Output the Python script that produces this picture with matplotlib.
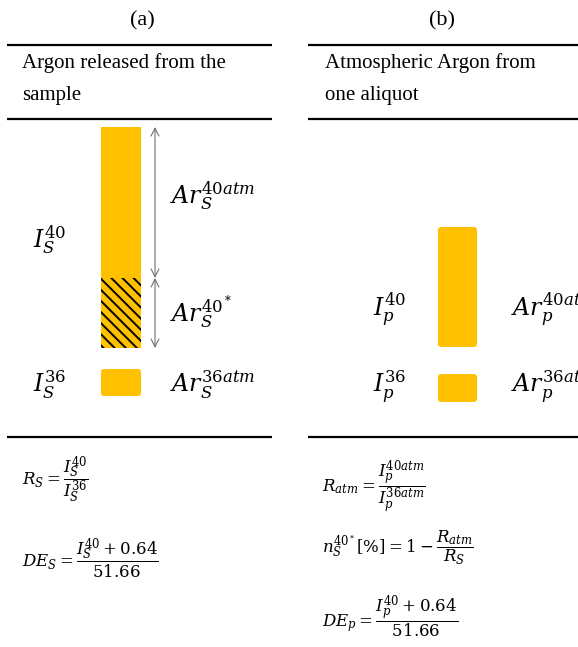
import matplotlib
matplotlib.use("Agg")
from matplotlib import pyplot as plt
from matplotlib.patches import FancyBboxPatch

# values (bar lengths in pixel units)
sample_ar40_atm = 151   # atmospheric part of I_S^40
sample_ar40_rad = 70    # radiogenic part (hatched)
sample_ar36 = 27
aliquot_ar40 = 120
aliquot_ar36 = 28

panel_titles = ["(a)", "(b)"]
panel_heads = [["Argon released from the", "sample"],
               ["Atmospheric Argon from", "one aliquot"]]

plt.rcParams['font.family'] = ['Liberation Serif', 'DejaVu Serif']
plt.rcParams['mathtext.fontset'] = 'dejavuserif'
plt.rcParams['hatch.linewidth'] = 1.4

ORANGE = "#FFC000"

fig = plt.figure(figsize=(5.78, 6.47), dpi=100)
ax = fig.add_axes([0, 0, 1, 1])
ax.set_xlim(0, 578)
ax.set_ylim(647, 0)
ax.axis('off')


def round_bars(bars, r=3):
    # swap plain bar rectangles for slightly rounded ones
    for b in bars:
        x, y = b.get_xy()
        b.set_visible(False)
        ax.add_patch(FancyBboxPatch((x, y), b.get_width(), b.get_height(),
                                    boxstyle="round,pad=0,rounding_size=%g" % r,
                                    fc=b.get_facecolor(), lw=0))


# panel titles, header rules and header text
cols = [(7, 272, 142, 22), (308, 578, 442, 325)]
for (x0, x1, xc, xt), title, head in zip(cols, panel_titles, panel_heads):
    ax.text(xc, 25, title, ha='center', va='baseline', fontsize=16)
    for y in (45, 119, 437):
        ax.plot([x0, x1], [y, y], color='black', lw=1.6, solid_capstyle='butt')
    ax.text(xt, 68, head[0], ha='left', va='baseline', fontsize=15)
    ax.text(xt, 100, head[1], ha='left', va='baseline', fontsize=15)

# (a) sample bars
top = 127
ax.bar(121, sample_ar40_atm, bottom=top, width=40, color=ORANGE, lw=0)
ax.bar(121, sample_ar40_rad, bottom=top + sample_ar40_atm, width=40,
       color=ORANGE, edgecolor='black', hatch='\\\\\\', lw=0)
round_bars(ax.bar(121, sample_ar36, bottom=369, width=40, color=ORANGE, lw=0))

mid = top + sample_ar40_atm
bot = mid + sample_ar40_rad
arrow = dict(arrowstyle='<->', color='#707070', lw=0.8, shrinkA=0, shrinkB=0,
             mutation_scale=14)
ax.annotate('', xy=(155, top), xytext=(155, mid), arrowprops=arrow)
ax.annotate('', xy=(155, mid), xytext=(155, bot), arrowprops=arrow)

ml = 17
ax.text(33, 240, r'$I_S^{40}$', fontsize=ml, va='center')
ax.text(33, 385, r'$I_S^{36}$', fontsize=ml, va='center')
ax.text(170, 195, r'$Ar_S^{40atm}$', fontsize=ml, va='center')
ax.text(170, 313, r'$Ar_S^{40^*}$', fontsize=ml, va='center')
ax.text(170, 385, r'$Ar_S^{36atm}$', fontsize=ml, va='center')

# (b) aliquot bars
round_bars(ax.bar(457.5, aliquot_ar40, bottom=227, width=39, color=ORANGE, lw=0))
round_bars(ax.bar(457.5, aliquot_ar36, bottom=374, width=39, color=ORANGE, lw=0))

ax.text(373, 310, r'$I_p^{40}$', fontsize=ml, va='center')
ax.text(373, 387, r'$I_p^{36}$', fontsize=ml, va='center')
# these two run past the right edge, as in the original
ax.text(511, 310, r'$Ar_p^{40atm}$', fontsize=ml, va='center')
ax.text(511, 387, r'$Ar_p^{36atm}$', fontsize=ml, va='center')

# formulas
fm = 12
ax.text(22, 480, r'$R_S = \dfrac{I_S^{40}}{I_S^{36}}$', fontsize=fm, va='center')
ax.text(22, 558, r'$DE_S = \dfrac{I_S^{40} + 0.64}{51.66}$', fontsize=fm, va='center')
ax.text(322, 487, r'$R_{atm} = \dfrac{I_p^{40atm}}{I_p^{36atm}}$', fontsize=fm, va='center')
ax.text(322, 548, r'$n_S^{40^*}[\%] = 1 - \dfrac{R_{atm}}{R_S}$', fontsize=fm, va='center')
ax.text(322, 617, r'$DE_p = \dfrac{I_p^{40} + 0.64}{51.66}$', fontsize=fm, va='center')

fig.savefig("out.png", dpi=100)
